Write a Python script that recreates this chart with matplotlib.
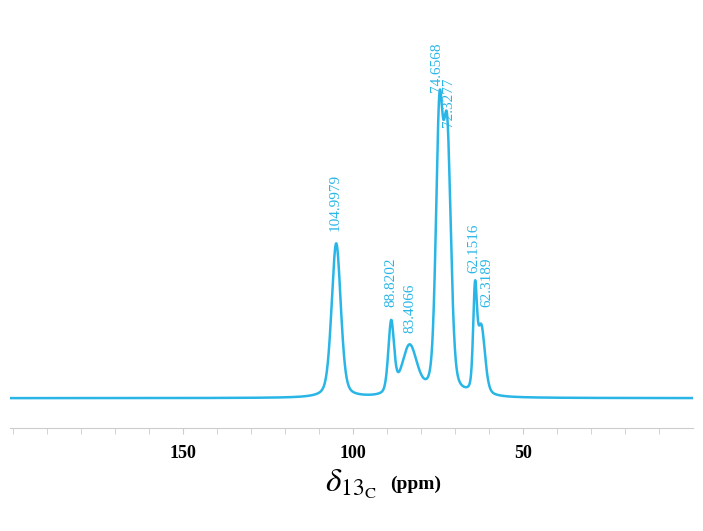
import numpy as np
import matplotlib.pyplot as plt
plt.rcParams['mathtext.fontset'] = 'stix'

peak_ppm = [104.9979, 88.8202, 83.4066, 74.6568, 72.3277, 64.1516, 62.3189]
peak_amp = [155, 72, 50, 265, 250, 95, 68]
peak_hwhm = [1.6, 1.0, 2.6, 1.2, 1.3, 0.65, 1.3]
eta = 0.35
label_txt = ["104.9979", "88.8202", "83.4066", "74.6568", "72.3277", "62.1516", "62.3189"]
label_pos = [(105.3, 168), (88.8, 92), (83.2, 66), (75.4, 308), (72.0, 273), (64.4, 126), (60.6, 92)]
tick_vals = [150, 100, 50]

x = np.linspace(201, 0, 3000)
y = np.zeros_like(x)
for p, a, w in zip(peak_ppm, peak_amp, peak_hwhm):
    g = np.exp(-np.log(2) * ((x - p) / w) ** 2)
    l = 1 / (1 + ((x - p) / w) ** 2)
    y += a * ((1 - eta) * g + eta * l)

fig = plt.figure(figsize=(7.03, 5.31), dpi=100)
ax = fig.add_axes([10/703, 1-428/531, 683/703, 368/531])
color = '#29b6e6'
ax.plot(x, y, color=color, lw=1.8)
ax.set_xlim(201, 0)
ax.set_ylim(-30, 340)
for s in ['top', 'left', 'right']:
    ax.spines[s].set_visible(False)
ax.spines['bottom'].set_color('#cccccc')
ax.set_yticks([])
ax.set_xticks(tick_vals)
ax.set_xticks(np.arange(200, 0, -10), minor=True)
ax.tick_params(axis='x', which='both', color='#cccccc', length=4, direction='out', pad=8)
ax.set_xticklabels([str(t) for t in tick_vals], fontfamily='Liberation Serif', fontweight='bold', fontsize=13)
for t, (px, py) in zip(label_txt, label_pos):
    ax.text(px, py, t, rotation=90, color=color, fontsize=11, ha='center', va='bottom',
            fontfamily='Liberation Serif')
fig.text(0.535, 0.075, r'$\delta_{13_{\mathrm{C}}}$', fontsize=24, ha='right', va='baseline')
fig.text(0.555, 0.08, '(ppm)', fontsize=14, fontweight='bold', ha='left', va='baseline', fontfamily='Liberation Serif')
fig.savefig('out.png')
